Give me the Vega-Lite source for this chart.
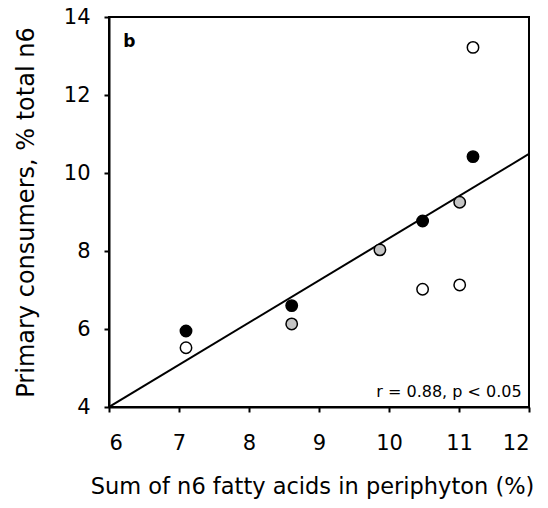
{
  "$schema": "https://vega.github.io/schema/vega-lite/v6.json",
  "width": 420,
  "height": 390,
  "autosize": {"type": "none"},
  "padding": {"left": 109, "top": 17, "right": 19, "bottom": 101},
  "config": {
    "view": {"stroke": "black", "strokeWidth": 2},
    "font": "DejaVu Sans",
    "axis": {
      "domainColor": "black", "domainWidth": 2,
      "tickColor": "black", "tickWidth": 2, "tickSize": 5,
      "grid": false,
      "labelColor": "black", "titleColor": "black",
      "labelFont": "DejaVu Sans", "titleFont": "DejaVu Sans",
      "labelFontSize": 21, "titleFontWeight": "normal"
    }
  },
  "layer": [
    {
      "data": {"values": [{"x": 6, "y": 4}, {"x": 12, "y": 10.49}]},
      "mark": {"type": "line", "color": "black", "strokeWidth": 2, "clip": true},
      "encoding": {
        "x": {"field": "x", "type": "quantitative",
              "scale": {"domain": [6, 12], "nice": false, "zero": false},
              "axis": {"values": [6, 7, 8, 9, 10, 11, 12], "format": "d", "labelPadding": 20, "titlePadding": 22,
                       "titleFontSize": 22.5, "titleX": 203,
                       "title": "Sum of n6 fatty acids in periphyton (%)"}},
        "y": {"field": "y", "type": "quantitative",
              "scale": {"domain": [4, 14], "nice": false, "zero": false},
              "axis": {"values": [4, 6, 8, 10, 12, 14], "format": "d", "labelPadding": 14, "titlePadding": 25,
                       "titleFontSize": 24,
                       "title": "Primary consumers, % total n6"}}
      }
    },
    {
      "data": {"values": [
        {"x": 7.1, "y": 5.95, "group": "black"},
        {"x": 7.1, "y": 5.52, "group": "white"},
        {"x": 8.61, "y": 6.6, "group": "black"},
        {"x": 8.61, "y": 6.13, "group": "gray"},
        {"x": 9.87, "y": 8.03, "group": "gray"},
        {"x": 10.48, "y": 8.77, "group": "black"},
        {"x": 10.48, "y": 7.02, "group": "white"},
        {"x": 11.01, "y": 9.25, "group": "gray"},
        {"x": 11.01, "y": 7.13, "group": "white"},
        {"x": 11.2, "y": 10.42, "group": "black"},
        {"x": 11.2, "y": 13.22, "group": "white"}
      ]},
      "mark": {"type": "circle", "size": 130, "stroke": "black", "strokeWidth": 1.5, "opacity": 1},
      "encoding": {
        "x": {"field": "x", "type": "quantitative"},
        "y": {"field": "y", "type": "quantitative"},
        "fill": {"field": "group", "type": "nominal",
                 "scale": {"domain": ["black", "gray", "white"], "range": ["black", "#c4c4c4", "white"]},
                 "legend": null}
      }
    },
    {
      "data": {"values": [{"label": "b"}]},
      "mark": {"type": "text", "fontWeight": "bold", "fontSize": 17, "align": "center", "baseline": "middle", "color": "black"},
      "encoding": {
        "text": {"field": "label"},
        "x": {"datum": 6.29, "type": "quantitative"},
        "y": {"datum": 13.36, "type": "quantitative"}
      }
    },
    {
      "data": {"values": [{"label": "r = 0.88, p < 0.05"}]},
      "mark": {"type": "text", "fontSize": 16, "align": "right", "baseline": "alphabetic", "color": "black"},
      "encoding": {
        "text": {"field": "label"},
        "x": {"datum": 11.895, "type": "quantitative"},
        "y": {"datum": 4.26, "type": "quantitative"}
      }
    }
  ]
}
